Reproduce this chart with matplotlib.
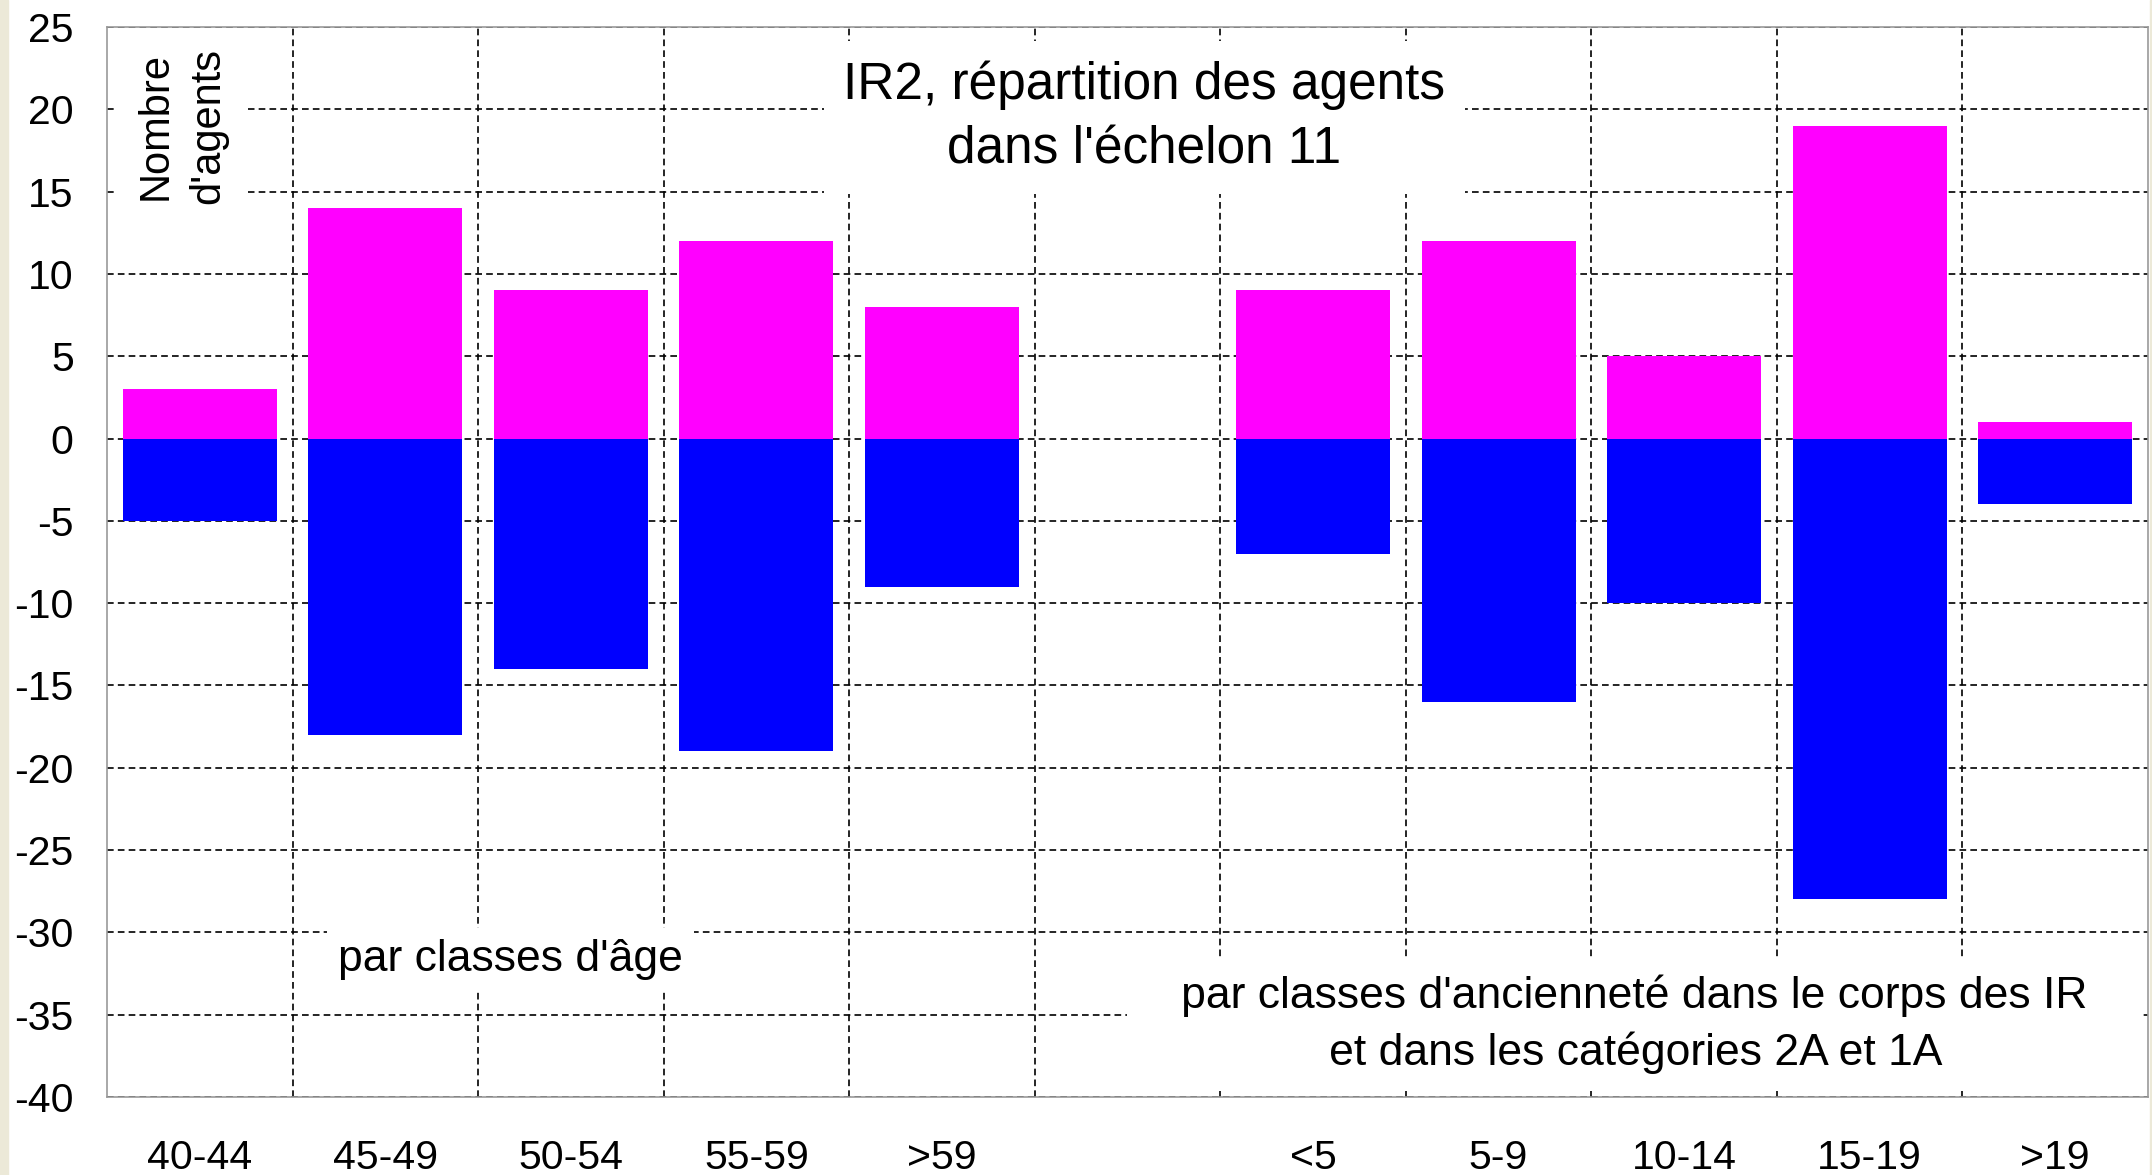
"""IR2: agents in echelon 11, by age class and by seniority class."""

import matplotlib as mpl

mpl.use("Agg")
import matplotlib.pyplot as plt
import numpy as np
from matplotlib.patches import Rectangle

plt.rcParams["font.family"] = ["Liberation Sans", "DejaVu Sans"]
plt.rcParams["axes.unicode_minus"] = False

# slot 5 is the empty gap between the two groups
categories = ["40-44", "45-49", "50-54", "55-59", ">59", "",
              "<5", "5-9", "10-14", "15-19", ">19"]
upper = [3, 14, 9, 12, 8, 0, 9, 12, 5, 19, 1]          # magenta, positive
lower = [-5, -18, -14, -19, -9, 0, -7, -16, -10, -28, -4]  # blue, negative
yticks = list(range(-40, 30, 5))

title = "IR2, répartition des agents\ndans l'échelon 11"
ylab = "Nombre\nd'agents"
note_age = "par classes d'âge"
note_anc = ("par classes d'ancienneté dans le corps des IR\n"
            "et dans les catégories 2A et 1A")

fig = plt.figure(figsize=(21.52, 11.75), dpi=100)
fig.patches.append(Rectangle((0, 0), 8 / 2152, 1, transform=fig.transFigure,
                             color="#ece9d8", zorder=-1))
fig.patches.append(Rectangle((2150 / 2152, 0), 2 / 2152, 1,
                             transform=fig.transFigure, color="#ece9d8",
                             zorder=-1))
ax = fig.add_axes([107 / 2152, 1 - 1097 / 1175, 2041 / 2152, 1070 / 1175])

x = np.arange(len(categories))
keep = [i for i, c in enumerate(categories) if c]
ax.bar(x[keep], [upper[i] for i in keep], width=0.83, color="#ff00ff",
       zorder=2)
ax.bar(x[keep], [lower[i] for i in keep], width=0.83, color="#0000ff",
       zorder=2)

ax.set_xlim(-0.5, len(categories) - 0.5)
ax.set_ylim(-40, 25)
ax.set_yticks(yticks)
ax.set_xticks(x[keep])
ax.set_xticklabels([categories[i] for i in keep])
ax.set_xticks(np.arange(0.5, len(categories) - 1), minor=True)
ax.tick_params(axis="both", which="both", length=0, labelsize=29.5)
ax.tick_params(axis="y", pad=24)
ax.tick_params(axis="x", pad=30)

ax.set_axisbelow(True)
ax.grid(axis="y", which="major", color="black", ls=(0, (4, 2.5)), lw=1.2)
ax.grid(axis="x", which="minor", color="black", ls=(0, (4, 2.5)), lw=1.2)
ax.grid(axis="x", which="major", visible=False)
for s in ax.spines.values():
    s.set_color("#999999")
    s.set_linewidth(1.2)

ax.text(5.09, 19.5, title, ha="center", va="center", fontsize=37,
        linespacing=1.42, zorder=3,
        bbox=dict(facecolor="white", edgecolor="none", pad=14))
ax.text(-0.095, 19.0, ylab, ha="center", va="center", rotation=90,
        fontsize=30, linespacing=1.42, zorder=3,
        bbox=dict(facecolor="white", edgecolor="none", pad=14))
ax.text(1.675, -31.65, note_age, ha="center", va="center", fontsize=32,
        zorder=3, bbox=dict(facecolor="white", edgecolor="none", pad=8))
ax.text(7.73, -35.6, "   " + note_anc.replace("\n", "   \n   ") + "   ",
        ha="center", va="center", fontsize=32, linespacing=1.44, zorder=3,
        bbox=dict(facecolor="white", edgecolor="none", pad=12))

fig.savefig("out.png", dpi=100)
